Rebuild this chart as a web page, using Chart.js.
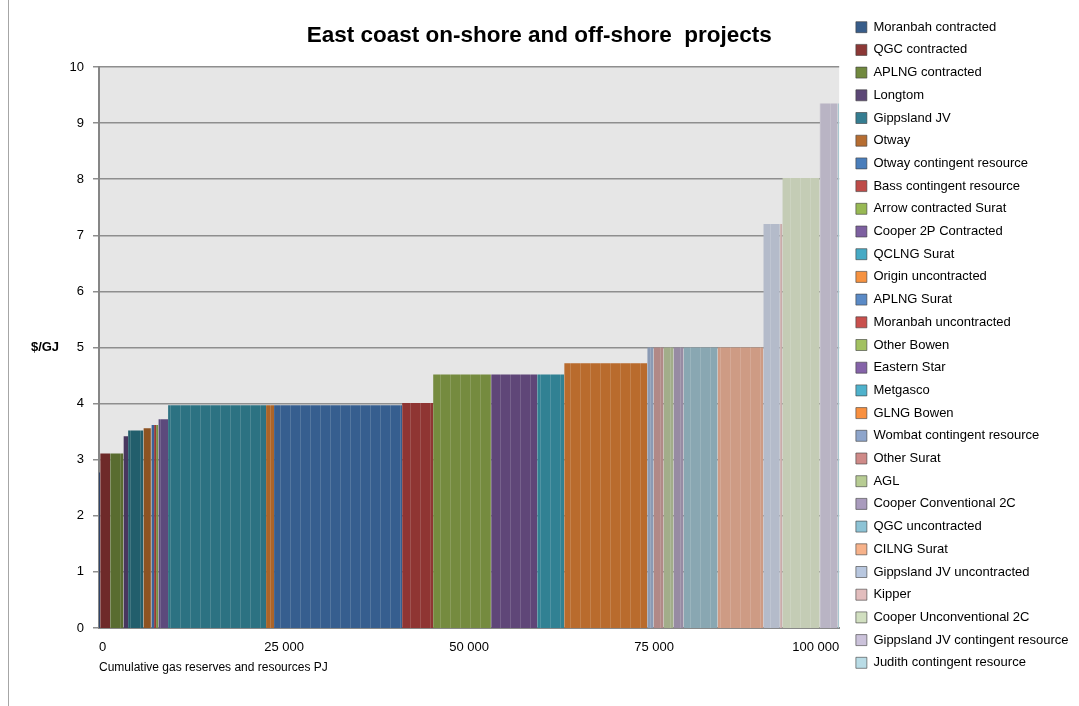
<!DOCTYPE html>
<html>
<head>
<meta charset="utf-8">
<title>East coast on-shore and off-shore projects</title>
<script src="https://cdn.jsdelivr.net/npm/chart.js@4.4.1/dist/chart.umd.min.js"></script>
<style>
    html, body { margin: 0; padding: 0; background: #fff; }
    #wrap { position: relative; width: 1079px; height: 706px; }
    #frame { position: absolute; left: 8px; top: 0; width: 1px; height: 706px; background: #a6a6a6; }
</style>
</head>
<body>
<div id="wrap">
    <canvas id="chart" width="1079" height="706"></canvas>
    <div id="frame"></div>
</div>
<script>
// Proyectos, en orden de coste
const projects = [
    'Moranbah contracted', 'QGC contracted', 'APLNG contracted', 'Longtom', 'Gippsland JV',
    'Otway', 'Otway contingent resource', 'Bass contingent resource', 'Arrow contracted Surat',
    'Cooper 2P Contracted', 'QCLNG Surat', 'Origin uncontracted', 'APLNG Surat',
    'Moranbah uncontracted', 'Other Bowen', 'Eastern Star', 'Metgasco', 'GLNG Bowen',
    'Wombat contingent resource', 'Other Surat', 'AGL', 'Cooper Conventional 2C',
    'QGC uncontracted', 'CILNG Surat', 'Gippsland JV uncontracted', 'Kipper',
    'Cooper Unconventional 2C', 'Gippsland JV contingent resource', 'Judith contingent resource'
];

// Reservas de cada proyecto (PJ)
const volumes = [
    150, 1350, 1800, 630, 2070,
    1080, 360, 270, 310,
    1310, 13240, 1080, 17300,
    4190, 7840, 6220, 3650, 11220,
    850, 1350, 1350, 1350,
    4600, 6180, 2230, 340,
    5040, 2430, 210
];

// Precio ($/GJ)
const prices = [
    2.77, 3.11, 3.11, 3.42, 3.52,
    3.56, 3.62, 3.62, 3.62,
    3.72, 3.97, 3.97, 3.97,
    4.01, 4.52, 4.52, 4.52, 4.72,
    5.0, 5.0, 5.0, 5.0,
    5.0, 5.0, 7.2, 7.2,
    8.02, 9.35, 9.35
];

const xTicks = [0, 25000, 50000, 75000, 100000];
const yTicks = [0, 1, 2, 3, 4, 5, 6, 7, 8, 9, 10];

// Colores
const barColors = [
    '#2F4468', '#6E2A29', '#596C30', '#48375F', '#225E6C',
    '#8D5322', '#3A6398', '#963A38', '#789142',
    '#5C4A7C', '#2C7282', '#AB6428', '#365E8F',
    '#8F3533', '#758B3F', '#5F4678', '#318193', '#B96B2D',
    '#8A9AB4', '#B18987', '#A2AD8A', '#978BA3',
    '#89A7B2', '#CE9B84', '#B4BBCA', '#C9ABAA',
    '#C4CCB5', '#B9B4C4', '#A9C7CF'
];
const legendColors = [
    '#385D8A', '#8C3836', '#71893F', '#5C4776', '#357D91',
    '#B66D31', '#4A7EBB', '#BE4B48', '#98B954',
    '#7D60A0', '#46AAC5', '#F69240', '#5A8AC6',
    '#C9504D', '#A2C161', '#8563A9', '#4FB2CC', '#F9903F',
    '#8EA5CB', '#CF8A88', '#B7CC93', '#A99BBD',
    '#8DC3D5', '#F7B28A', '#B8C7DF', '#E2BDBD',
    '#D1DFC0', '#CBC2DA', '#B9DCE6'
];

// Relleno con rayas verticales finas
function stripeFill(color) {
    const c = document.createElement('canvas');
    c.width = 10;
    c.height = 10;
    const g = c.getContext('2d');
    g.fillStyle = color;
    g.fillRect(0, 0, 10, 10);
    g.fillStyle = 'rgba(255,255,255,0.15)';
    g.fillRect(0, 0, 1, 10);
    return g.createPattern(c, 'repeat');
}

// Un dataset por proyecto: escalón desde el acumulado anterior
let cumulative = 0;
const datasets = projects.map((name, i) => {
    const start = cumulative;
    cumulative += volumes[i];
    return {
        label: name,
        data: [{ x: start, y: prices[i] }, { x: cumulative, y: prices[i] }],
        fill: 'origin',
        backgroundColor: stripeFill(barColors[i]),
        borderColor: 'rgba(0,0,0,0)',
        borderWidth: 0,
        pointRadius: 0,
        tension: 0
    };
});

const plotBackground = {
    id: 'plotBackground',
    beforeDraw(chart) {
        const { ctx, chartArea } = chart;
        ctx.save();
        ctx.fillStyle = '#E6E6E6';
        ctx.fillRect(chartArea.left, chartArea.top, chartArea.right - chartArea.left, chartArea.bottom - chartArea.top);
        ctx.restore();
    }
};

// Hueco entre el área del gráfico y la leyenda
const legendGap = {
    id: 'legendGap',
    afterLayout(chart) {
        const gap = 7;
        const area = chart.chartArea;
        area.right -= gap;
        area.width -= gap;
        const x = chart.scales.x;
        x.right -= gap;
        x.width -= gap;
        x.configure();
    }
};

const yLabel = {
    id: 'yLabel',
    afterDraw(chart) {
        const { ctx } = chart;
        const y = chart.scales.y.getPixelForValue(5);
        ctx.save();
        ctx.font = 'bold 13px "Liberation Sans", Arial, sans-serif';
        ctx.fillStyle = '#000';
        ctx.textAlign = 'center';
        ctx.textBaseline = 'middle';
        ctx.fillText('$/GJ', 45, y);
        ctx.restore();
    }
};

const font = '"Liberation Sans", Arial, sans-serif';

new Chart(document.getElementById('chart'), {
    type: 'line',
    data: { datasets: datasets },
    options: {
        responsive: false,
        animation: false,
        events: [],
        layout: { padding: { top: 0, right: 0.5, bottom: 16, left: 0 } },
        plugins: {
            title: {
                display: true,
                text: 'East coast on-shore and off-shore  projects',
                font: { family: font, size: 22.5, weight: 'bold' },
                color: '#000',
                padding: { top: 22, bottom: 18 }
            },
            legend: {
                position: 'right',
                labels: {
                    boxWidth: 11,
                    boxHeight: 11,
                    padding: 9.7,
                    color: '#000',
                    font: { family: font, size: 13 },
                    generateLabels(chart) {
                        return projects.map((name, i) => ({
                            text: name,
                            fillStyle: legendColors[i],
                            strokeStyle: 'rgba(60,60,60,0.6)',
                            lineWidth: 1,
                            hidden: false,
                            datasetIndex: i
                        }));
                    }
                }
            },
            tooltip: { enabled: false }
        },
        scales: {
            x: {
                type: 'linear',
                min: xTicks[0],
                max: xTicks[xTicks.length - 1],
                z: 1,
                afterBuildTicks(scale) {
                    scale.ticks = xTicks.map(v => ({ value: v }));
                },
                afterFit(scale) { scale.height = 62; },
                ticks: {
                    align: 'inner',
                    padding: 12,
                    color: '#000',
                    font: { family: font, size: 13 },
                    callback: v => v.toLocaleString('en-US').replace(/,/g, ' ')
                },
                grid: { display: false, drawTicks: false },
                border: { display: true, color: '#888888', width: 2 },
                title: {
                    display: true,
                    text: 'Cumulative gas reserves and resources PJ',
                    align: 'start',
                    color: '#000',
                    font: { family: font, size: 12 },
                    padding: { top: 0, bottom: 15 }
                }
            },
            y: {
                min: yTicks[0],
                max: yTicks[yTicks.length - 1],
                afterBuildTicks(scale) {
                    scale.ticks = yTicks.map(v => ({ value: v }));
                },
                afterFit(scale) { scale.width = 99; },
                ticks: {
                    padding: 9,
                    color: '#000',
                    font: { family: font, size: 13 }
                },
                grid: {
                    color: '#8E8E8E',
                    lineWidth: 1.5,
                    tickLength: 6,
                    tickColor: '#8E8E8E'
                },
                border: { display: true, color: '#868686', width: 2 }
            }
        }
    },
    plugins: [plotBackground, legendGap, yLabel]
});
</script>
</body>
</html>
